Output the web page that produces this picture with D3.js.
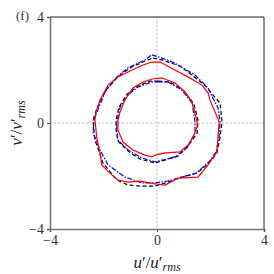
<!DOCTYPE html>
<html>
<head>
<meta charset="utf-8">
<script src="https://cdn.jsdelivr.net/npm/d3@7"></script>
<style>
  body { margin: 0; background: #fff; }
  svg { display: block; }
  text { font-family: "Liberation Serif", "DejaVu Serif", serif; }
</style>
</head>
<body>
<svg id="chart"></svg>
<script>
// Size of chart svg
var width = 274;
var height = 274;
var margin = {top: 17, right: 10, bottom: 45, left: 50};

// Axis ticks
const ticks = [-4, 0, 4];

// Contours [u, v]
const redOuter = [[0.11,2.30],[0.67,2.00],[1.16,1.74],[1.68,1.43],[1.91,1.13],[1.98,0.87],[2.17,0.42],[2.32,0.04],[2.28,-0.53],[2.24,-1.09],[1.91,-1.58],[1.53,-2.04],[0.79,-2.08],[0.30,-2.34],[-0.07,-2.30],[-0.26,-2.26],[-0.64,-2.19],[-1.08,-2.23],[-1.46,-2.15],[-1.76,-1.89],[-2.06,-1.58],[-2.13,-1.13],[-2.24,-0.64],[-2.32,0.11],[-2.28,0.42],[-2.13,0.87],[-1.83,1.43],[-1.46,1.74],[-0.93,2.00],[-0.52,2.19],[-0.19,2.30]];
const blueOuter = [[-0.19,2.57],[0.19,2.45],[0.67,2.26],[1.42,1.81],[1.91,1.32],[2.09,0.94],[2.28,0.57],[2.36,0.04],[2.32,-0.53],[2.21,-1.09],[1.94,-1.47],[1.46,-1.89],[0.93,-2.04],[0.41,-2.19],[-0.07,-2.26],[-0.56,-2.26],[-1.20,-2.04],[-1.83,-1.58],[-2.13,-1.02],[-2.39,-0.38],[-2.36,0.11],[-2.32,0.23],[-1.94,1.17],[-1.50,1.74],[-1.08,2.08],[-0.45,2.38]];
const blackOuter = [[-0.15,2.45],[0.19,2.38],[0.86,2.15],[1.79,1.43],[2.09,1.06],[2.36,0.75],[2.43,0.04],[2.36,-0.53],[2.24,-1.13],[1.98,-1.47],[1.50,-1.89],[0.93,-2.04],[0.41,-2.23],[-0.07,-2.38],[-0.64,-2.38],[-1.08,-2.34],[-1.50,-2.15],[-2.02,-1.51],[-2.32,-0.64],[-2.39,0.11],[-2.24,0.57],[-1.91,1.25],[-1.46,1.74],[-1.01,2.08],[-0.45,2.34]];
const redInner = [[0.19,1.70],[0.67,1.51],[1.05,1.17],[1.31,0.79],[1.50,0.04],[1.50,-0.15],[1.35,-0.53],[1.16,-0.83],[0.86,-1.09],[0.30,-1.13],[-0.07,-1.21],[-0.19,-1.28],[-0.45,-1.21],[-0.90,-1.02],[-1.27,-0.72],[-1.46,-0.26],[-1.46,0.11],[-1.38,0.42],[-1.20,0.87],[-0.90,1.32],[-0.52,1.55],[-0.19,1.66]];
const blueInner = [[0.04,1.55],[0.41,1.55],[0.93,1.25],[1.31,0.75],[1.42,0.04],[1.42,-0.38],[1.12,-0.94],[0.67,-1.28],[-0.07,-1.47],[-0.56,-1.32],[-1.08,-1.02],[-1.46,-0.64],[-1.50,-0.26],[-1.50,0.04],[-1.38,0.60],[-1.08,1.06],[-0.71,1.36],[-0.19,1.55]];
const blackInner = [[0.04,1.58],[0.49,1.55],[1.01,1.21],[1.38,0.72],[1.53,0.11],[1.50,-0.38],[1.16,-0.87],[0.79,-1.25],[-0.07,-1.51],[-0.64,-1.36],[-1.08,-1.06],[-1.46,-0.68],[-1.53,-0.26],[-1.53,0.11],[-1.42,0.60],[-1.12,1.09],[-0.71,1.40],[-0.26,1.58]];

const series = [
  {pts: blackOuter, color: "#000", dash: "4,2.5"},
  {pts: blackInner, color: "#000", dash: "4,2.5"},
  {pts: blueOuter, color: "#0000ff", dash: "5,1.5,1.5,1.5"},
  {pts: blueInner, color: "#0000ff", dash: "5,1.5,1.5,1.5"},
  {pts: redOuter, color: "#ff0000", dash: null},
  {pts: redInner, color: "#ff0000", dash: null}
];

const svg = d3.select("#chart").attr("width", width).attr("height", height);

const x = d3.scaleLinear().domain([-4, 4]).range([margin.left, width - margin.right]);
const y = d3.scaleLinear().domain([-4, 4]).range([height - margin.bottom, margin.top]);

// grid at zero
svg.append("line")
  .attr("x1", x(0)).attr("x2", x(0)).attr("y1", y(4)).attr("y2", y(-4))
  .attr("stroke", "#b0b0b0").attr("stroke-width", 0.8).attr("stroke-dasharray", "2.5,1.5");
svg.append("line")
  .attr("x1", x(-4)).attr("x2", x(4)).attr("y1", y(0)).attr("y2", y(0))
  .attr("stroke", "#b0b0b0").attr("stroke-width", 0.8).attr("stroke-dasharray", "2.5,1.5");

const line = d3.line().x(d => x(d[0])).y(d => y(d[1])).curve(d3.curveLinearClosed);

svg.append("g")
  .selectAll("path")
  .data(series)
  .join("path")
  .attr("d", d => line(d.pts))
  .attr("fill", "none")
  .attr("stroke", d => d.color)
  .attr("stroke-width", 1.2)
  .attr("stroke-dasharray", d => d.dash);

// frame
svg.append("line").attr("x1", x(-4)).attr("x2", x(4)).attr("y1", y(4)).attr("y2", y(4))
  .attr("stroke", "#222").attr("stroke-width", 1);
svg.append("line").attr("x1", x(4)).attr("x2", x(4)).attr("y1", y(4)).attr("y2", y(-4))
  .attr("stroke", "#222").attr("stroke-width", 1);

const xAxis = svg.append("g")
  .attr("transform", `translate(0,${y(-4)})`)
  .call(d3.axisBottom(x).tickValues(ticks).tickSize(3).tickPadding(3).tickFormat(d => d < 0 ? "\u2212" + (-d) : d));
const yAxis = svg.append("g")
  .attr("transform", `translate(${x(-4)},0)`)
  .call(d3.axisLeft(y).tickValues(ticks).tickSize(3).tickPadding(3).tickFormat(d => d < 0 ? "\u2212" + (-d) : d));

[xAxis, yAxis].forEach(a => {
  a.select(".domain").attr("stroke", "#777").attr("stroke-width", 1.6);
  a.selectAll(".tick line").attr("stroke", "#555");
  a.selectAll(".tick text")
    .style("font-family", "'Liberation Serif', serif")
    .style("font-size", "14px")
    .attr("fill", "#333");
});

// axis labels
const xl = svg.append("text")
  .attr("x", x(0)).attr("y", 268)
  .attr("text-anchor", "middle")
  .style("font-size", "17px").attr("fill", "#222");
xl.append("tspan").style("font-style", "italic").text("u");
xl.append("tspan").text("\u2032/");
xl.append("tspan").style("font-style", "italic").text("u");
xl.append("tspan").text("\u2032");
xl.append("tspan").style("font-style", "italic").style("font-size", "12px").attr("dy", 3).text("rms");

const yl = svg.append("text")
  .attr("transform", `translate(22,${y(0)}) rotate(-90)`)
  .attr("text-anchor", "middle")
  .style("font-size", "17px").attr("fill", "#222");
yl.append("tspan").style("font-style", "italic").text("v");
yl.append("tspan").text("\u2032/");
yl.append("tspan").style("font-style", "italic").text("v");
yl.append("tspan").text("\u2032");
yl.append("tspan").style("font-style", "italic").style("font-size", "12px").attr("dy", 3).text("rms");

svg.append("text")
  .attr("x", 16).attr("y", 20)
  .style("font-size", "13px").attr("fill", "#333")
  .text("(f)");
</script>
</body>
</html>
